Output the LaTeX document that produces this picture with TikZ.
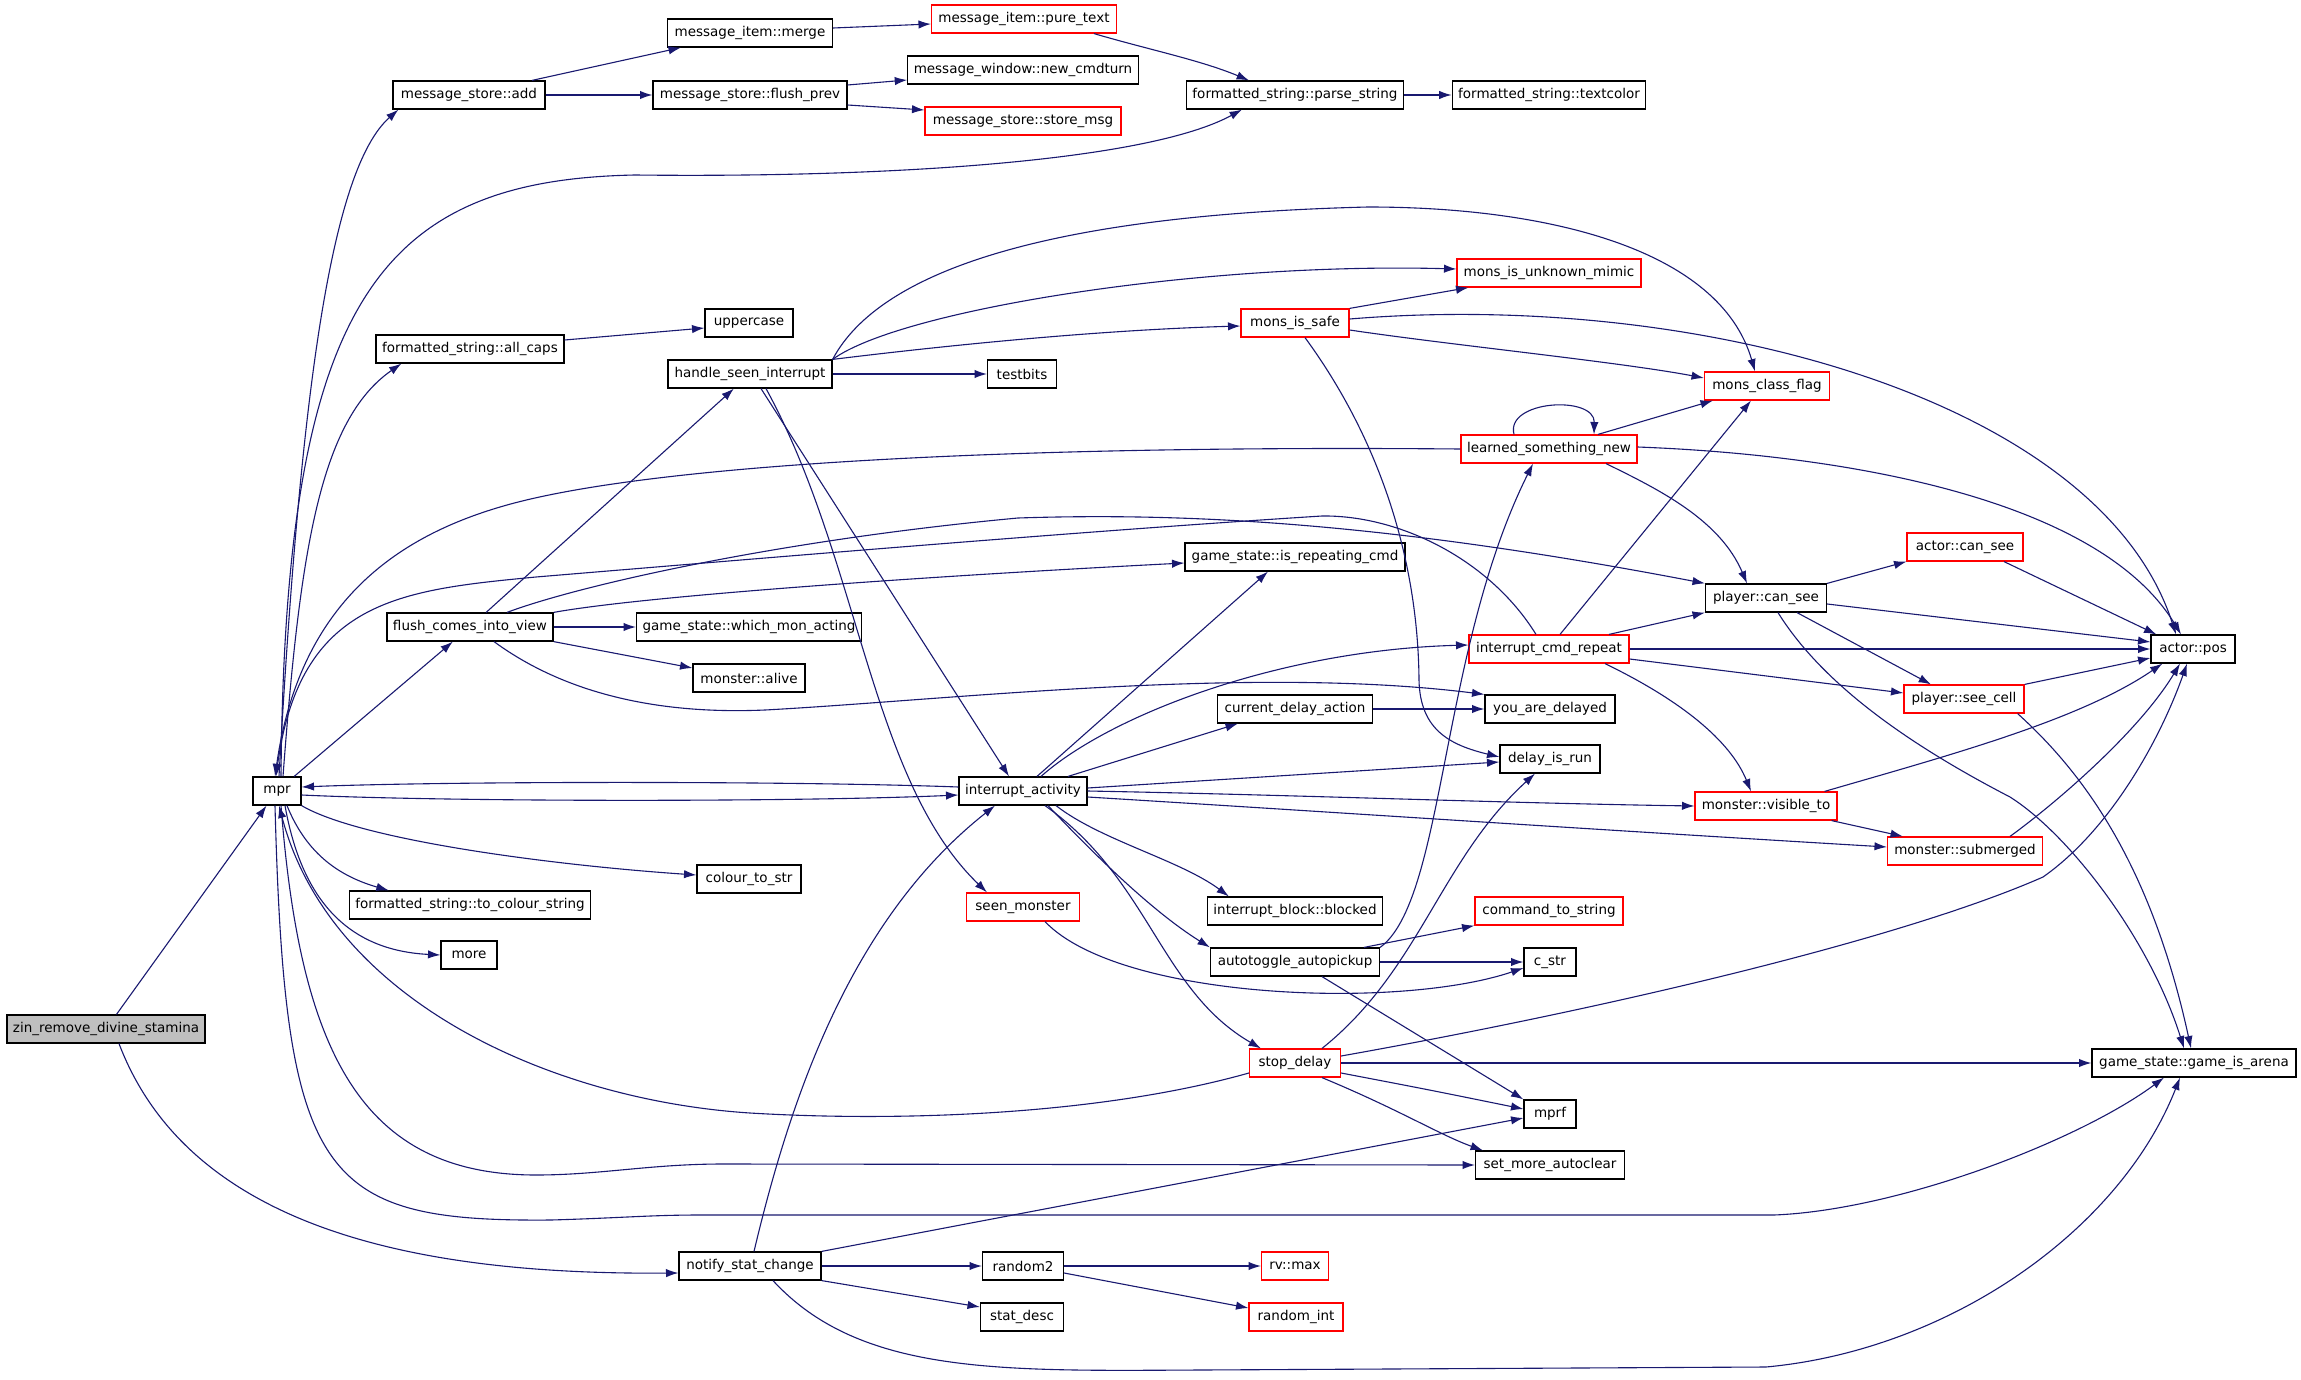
\documentclass[tikz,border=0pt]{standalone}
\usepackage{fontspec}
\setmainfont{DejaVu Sans}
\usetikzlibrary{
  arrows.meta
}
\definecolor{edgeblue}{RGB}{25,25,112}
\definecolor{rootgray}{RGB}{191,191,191}
\tikzset{
  % For the boxes of called functions.
  func/.style={
    draw,
    fill=white,
    line width=0.6pt,
    minimum height=14pt,
    inner xsep=3pt,
    inner ysep=0pt,
    font=\fontsize{6.75pt}{8pt}\selectfont},
%
  % For functions whose own calls are not shown.
  truncated/.style={
    func,
    draw=red},
%
  % For the function the graph starts from.
  root func/.style={
    func,
    fill=rootgray},
%
  % For calls, one arrow each.
  call/.style={
    draw=edgeblue,
    line width=0.55pt,
    -{Latex[length=6.2pt,width=4.2pt]}}
}
\begin{document}
\begin{tikzpicture}[x=0.5pt,y=-0.5pt]
  \path[use as bounding box, fill=white] (0,0) rectangle (2301,1380);

  \node[root func, minimum width=99pt] (zin) at (106,1029) {zin\_remove\_divine\_stamina};
  \node[func, minimum width=24pt] (mpr) at (277,791) {mpr};
  \node[func, minimum width=76pt] (store add) at (469,95) {message\_store::add};
  \node[func, minimum width=82.5pt] (item merge) at (750,33) {message\_item::merge};
  \node[truncated, minimum width=92.5pt] (pure text) at (1024,19) {message\_item::pure\_text};
  \node[func, minimum width=112.5pt] (new cmdturn) at (1023,70) {message\_window::new\_cmdturn};
  \node[func, minimum width=97pt] (flush prev) at (750,95) {message\_store::flush\_prev};
  \node[truncated, minimum width=98pt] (store msg) at (1023,121) {message\_store::store\_msg};
  \node[func, minimum width=108pt] (parse string) at (1295,95) {formatted\_string::parse\_string};
  \node[func, minimum width=96pt] (textcolor) at (1549,95) {formatted\_string::textcolor};
  \node[func, minimum width=94pt] (all caps) at (470,349) {formatted\_string::all\_caps};
  \node[func, minimum width=44pt] (uppercase) at (749,323) {uppercase};
  \node[func, minimum width=82pt] (seen interrupt) at (750,374) {handle\_seen\_interrupt};
  \node[func, minimum width=34.5pt] (testbits) at (1022,374) {testbits};
  \node[truncated, minimum width=92pt] (unknown mimic) at (1549,273) {mons\_is\_unknown\_mimic};
  \node[truncated, minimum width=54pt] (mons safe) at (1295,323) {mons\_is\_safe};
  \node[truncated, minimum width=62.5pt] (class flag) at (1767,386) {mons\_class\_flag};
  \node[truncated, minimum width=88pt] (learned) at (1549,449) {learned\_something\_new};
  \node[func, minimum width=83pt] (flush view) at (470,627) {flush\_comes\_into\_view};
  \node[func, minimum width=112pt] (which mon) at (749,627) {game\_state::which\_mon\_acting};
  \node[func, minimum width=56pt] (alive) at (749,678) {monster::alive};
  \node[func, minimum width=64pt] (activity) at (1023,791) {interrupt\_activity};
  \node[func, minimum width=52pt] (colour str) at (749,879) {colour\_to\_str};
  \node[func, minimum width=119pt] (to colour) at (470,905) {formatted\_string::to\_colour\_string};
  \node[truncated, minimum width=56.5pt] (seen monster) at (1023,907) {seen\_monster};
  \node[func, minimum width=110pt] (repeating) at (1295,557) {game\_state::is\_repeating\_cmd};
  \node[truncated, minimum width=58pt] (can see) at (1965,547) {actor::can\_see};
  \node[func, minimum width=60.5pt] (player see) at (1766,598) {player::can\_see};
  \node[truncated, minimum width=80pt] (cmd repeat) at (1549,649) {interrupt\_cmd\_repeat};
  \node[func, minimum width=42pt] (pos) at (2193,649) {actor::pos};
  \node[func, minimum width=77.5pt] (delay action) at (1295,709) {current\_delay\_action};
  \node[func, minimum width=65pt] (delayed) at (1550,709) {you\_are\_delayed};
  \node[truncated, minimum width=60pt] (see cell) at (1964,699) {player::see\_cell};
  \node[func, minimum width=50pt] (delay run) at (1550,759) {delay\_is\_run};
  \node[truncated, minimum width=71pt] (visible) at (1766,806) {monster::visible\_to};
  \node[truncated, minimum width=77.5pt] (submerged) at (1965,851) {monster::submerged};
  \node[func, minimum width=86.5pt] (blocked) at (1295,911) {interrupt\_block::blocked};
  \node[truncated, minimum width=74pt] (command string) at (1549,911) {command\_to\_string};
  \node[func, minimum width=28pt] (more) at (469,955) {more};
  \node[func, minimum width=71pt] (notify) at (750,1266) {notify\_stat\_change};
  \node[func, minimum width=40.5pt] (random2) at (1023,1266) {random2};
  \node[func, minimum width=41.5pt] (stat desc) at (1022,1317) {stat\_desc};
  \node[func, minimum width=84.5pt] (autopickup) at (1295,962) {autotoggle\_autopickup};
  \node[func, minimum width=26pt] (c str) at (1550,962) {c\_str};
  \node[truncated, minimum width=45.5pt] (stop delay) at (1295,1063) {stop\_delay};
  \node[func, minimum width=102pt] (arena) at (2194,1063) {game\_state::game\_is\_arena};
  \node[func, minimum width=26pt] (mprf) at (1550,1114) {mprf};
  \node[func, minimum width=74.5pt] (autoclear) at (1550,1165) {set\_more\_autoclear};
  \node[truncated, minimum width=33.5pt] (rv max) at (1295,1266) {rv::max};
  \node[truncated, minimum width=47pt] (random int) at (1296,1317) {random\_int};

  \draw[call] (zin) -- (mpr);
  \draw[call] ([xshift=6.5pt]zin.south) .. controls (190,1230) and (420,1275) .. ([yshift=-3.5pt]notify.west);

  \draw[call] ([xshift=1pt]mpr.north) .. controls (300,400) and (330,170) .. ([xshift=3pt]store add.south west);
  \draw[call] ([xshift=2pt]mpr.north) .. controls (285,300) and (380,180) .. (635,175)
              .. controls (900,178) and (1150,160) .. ([xshift=-26.5pt]parse string.south);
  \draw[call] ([xshift=3pt]mpr.north) .. controls (300,550) and (320,420) .. ([xshift=13pt]all caps.south west);
  \draw[call] (mpr) -- (flush view);
  \draw[call] ([yshift=-2pt]mpr.east) .. controls (450,802) and (800,802) .. ([yshift=-2pt]activity.west);
  \draw[call] (mpr.south east) .. controls (360,840) and (550,865) .. ([yshift=2pt]colour str.west);
  \draw[call] ([xshift=5pt]mpr.south) .. controls (305,850) and (335,875) .. ([xshift=20pt]to colour.north west);
  \draw[call] ([xshift=4pt]mpr.south) .. controls (300,890) and (340,950) .. (more.west);
  \draw[call] ([xshift=2pt]mpr.south) .. controls (300,1050) and (360,1175) .. (536,1175)
              .. controls (600,1175) and (650,1164) .. (723,1164) -- (autoclear.west);
  \draw[call] ([xshift=-1pt]mpr.south) .. controls (285,1180) and (320,1222) .. (551,1220)
              .. controls (620,1218) and (650,1215) .. (700,1215) -- (1774,1215)
              .. controls (1900,1210) and (2080,1140) .. ([xshift=-15pt]arena.south);

  \draw[call] ([yshift=-5pt]stop delay.west) .. controls (1100,1115) and (900,1122) .. (750,1113)
              .. controls (550,1100) and (330,1000) .. ([xshift=1pt]mpr.south);
  \draw[call] (learned.west) .. controls (1000,445) and (650,465) .. (507,505)
              .. controls (400,535) and (300,600) .. ([xshift=-1pt]mpr.north);
  \draw[call] ([xshift=-6.5pt]cmd repeat.north) .. controls (1490,560) and (1400,515) .. (1322,516)
              .. controls (1100,530) and (800,555) .. (536,577)
              .. controls (400,590) and (300,600) .. ([xshift=-0.5pt]mpr.north);
  \draw[call] ([yshift=2pt]activity.west) .. controls (800,781) and (450,781) .. ([yshift=2pt]mpr.east);

  \draw[call] ([xshift=31.5pt]store add.north) -- ([xshift=7pt]item merge.south west);
  \draw[call] (store add) -- (flush prev);
  \draw[call] ([yshift=2.5pt]item merge.east) -- ([yshift=-2.5pt]pure text.west);
  \draw[call] ([yshift=5pt]flush prev.east) -- ([yshift=-5pt]new cmdturn.west);
  \draw[call] ([yshift=-5pt]flush prev.east) -- ([yshift=5.5pt]store msg.west);
  \draw[call] ([xshift=35pt]pure text.south) .. controls (1150,50) and (1200,60) .. ([xshift=-23pt]parse string.north);
  \draw[call] (parse string) -- (textcolor);
  \draw[call] ([yshift=4.5pt]all caps.east) -- ([yshift=-2.5pt]uppercase.west);

  \draw[call] (flush view) -- (seen interrupt);
  \draw[call] (flush view.north east) .. controls (650,595) and (950,575) .. ([yshift=-3pt]repeating.west);
  \draw[call] (flush view) -- (which mon);
  \draw[call] (flush view.south east) -- ([yshift=5pt]alive.west);
  \draw[call] ([xshift=12pt]flush view.south) .. controls (560,690) and (650,715) .. (765,710)
              .. controls (950,700) and (1250,665) .. (delayed.north west);
  \draw[call] ([xshift=18.5pt]flush view.north) .. controls (580,585) and (780,540) .. (1018,518)
              .. controls (1200,512) and (1400,525) .. (player see.north west);

  \draw[call] (seen interrupt) -- (testbits);
  \draw[call] (seen interrupt.north east) .. controls (900,310) and (1200,262) .. ([yshift=2pt]unknown mimic.west);
  \draw[call] (seen interrupt.north east) .. controls (950,345) and (1100,330) .. ([yshift=-1.5pt]mons safe.west);
  \draw[call] (seen interrupt.north east) .. controls (880,270) and (1050,215) .. (1368,207)
              .. controls (1550,207) and (1720,250) .. ([xshift=-6pt]class flag.north);
  \draw[call] ([xshift=5.5pt]seen interrupt.south) -- ([xshift=-7pt]activity.north);
  \draw[call] ([xshift=8pt]seen interrupt.south) .. controls (860,560) and (870,780) .. ([xshift=-18pt]seen monster.north);

  \draw[call] (mons safe.north east) -- ([xshift=6pt]unknown mimic.south west);
  \draw[call] ([yshift=-3.5pt]mons safe.east) .. controls (1450,345) and (1620,362) .. ([yshift=4pt]class flag.west);
  \draw[call] ([yshift=2pt]mons safe.east) .. controls (1700,290) and (2100,400) .. ([xshift=-8.5pt]pos.north);
  \draw[call] ([xshift=5pt]mons safe.south) .. controls (1380,440) and (1418,560) .. (1419,680)
              .. controls (1420,730) and (1450,745) .. ([yshift=1pt]delay run.west);

  \draw[call] ([xshift=-17.5pt]learned.north) .. controls (1505,400) and (1595,395) .. ([xshift=22.5pt]learned.north);
  \draw[call] ([xshift=24.5pt]learned.north) -- ([xshift=4.5pt]class flag.south west);
  \draw[call] ([yshift=1pt]learned.east) .. controls (1850,455) and (2100,500) .. ([xshift=-6pt]pos.north);
  \draw[call] ([xshift=28.5pt]learned.south) .. controls (1660,490) and (1720,520) .. ([xshift=-9.5pt]player see.north);

  \draw[call] ([xshift=5.5pt]cmd repeat.north) -- ([xshift=-8pt]class flag.south);
  \draw[call] ([xshift=30pt]cmd repeat.north) -- (player see.south west);
  \draw[call] (cmd repeat) -- (pos);
  \draw[call] ([yshift=-5pt]cmd repeat.east) -- ([yshift=3pt]see cell.west);
  \draw[call] ([xshift=28pt]cmd repeat.south) .. controls (1680,700) and (1730,740) .. ([xshift=-7.5pt]visible.north);

  \draw[call] (player see.north east) -- (can see.south west);
  \draw[call] ([yshift=-3pt]player see.east) -- ([yshift=3.5pt]pos.west);
  \draw[call] ([xshift=15.5pt]player see.south) -- ([xshift=-16.5pt]see cell.north);
  \draw[call] ([xshift=6pt]player see.south) .. controls (1820,680) and (1900,740) .. (2010,797)
              .. controls (2070,835) and (2150,940) .. ([xshift=-5pt]arena.north);
  \draw[call] ([xshift=19.5pt]can see.south) -- ([xshift=3pt]pos.north west);
  \draw[call] (see cell.north east) -- ([yshift=-4.5pt]pos.west);
  \draw[call] ([xshift=-3.5pt]see cell.south east) .. controls (2080,770) and (2150,860) .. ([xshift=-1.5pt]arena.north);

  \draw[call] ([xshift=-6.5pt]visible.north east) .. controls (1950,755) and (2080,720) .. ([xshift=6pt]pos.south west);
  \draw[call] ([xshift=-3pt]visible.south east) -- ([xshift=8pt]submerged.north west);
  \draw[call] ([xshift=22.5pt]submerged.north) .. controls (2060,800) and (2140,730) .. ([xshift=-6.5pt]pos.south);

  \draw[call] ([xshift=7pt]activity.north) -- ([xshift=-13.5pt]repeating.south);
  \draw[call] ([xshift=9pt]activity.north) .. controls (1110,715) and (1280,650) .. ([yshift=2pt]cmd repeat.west);
  \draw[call] ([xshift=22.5pt]activity.north) -- ([xshift=10.5pt]delay action.south west);
  \draw[call] ([yshift=1.5pt]activity.east) -- ([yshift=-1.5pt]delay run.west);
  \draw[call] (activity.east) .. controls (1300,795) and (1500,803) .. (visible.west);
  \draw[call] ([yshift=-3pt]activity.east) .. controls (1300,810) and (1600,830) .. ([yshift=2pt]submerged.west);
  \draw[call] ([xshift=16.5pt]activity.south) .. controls (1100,840) and (1180,860) .. ([xshift=11pt]blocked.north west);
  \draw[call] ([xshift=12.5pt]activity.south) .. controls (1090,850) and (1150,910) .. (autopickup.north west);
  \draw[call] ([xshift=11pt]activity.south) .. controls (1150,880) and (1160,990) .. ([xshift=6pt]stop delay.north west);
  \draw[call] (delay action) -- (delayed);

  \draw[call] ([xshift=2pt]notify.north) .. controls (790,1100) and (850,920) .. ([xshift=-14pt]activity.south);
  \draw[call] (notify.north east) -- ([yshift=-2pt]mprf.west);
  \draw[call] (notify) -- (random2);
  \draw[call] (notify.south east) -- ([yshift=5pt]stat desc.west);
  \draw[call] ([xshift=11.5pt]notify.south) .. controls (860,1375) and (1000,1371) .. (1200,1370) -- (1766,1367)
              .. controls (1950,1350) and (2120,1230) .. ([xshift=-7pt]arena.south);
  \draw[call] (random2) -- (rv max);
  \draw[call] ([yshift=-3.5pt]random2.east) -- ([yshift=4.5pt]random int.west);

  \draw[call] ([xshift=11pt]seen monster.south) .. controls (1120,1000) and (1400,1010) .. ([yshift=-3pt]c str.west);

  \draw[call] ([xshift=34.5pt]autopickup.north) -- (command string.south west);
  \draw[call] (autopickup) -- (c str);
  \draw[call] ([xshift=13.5pt]autopickup.south) -- (mprf.north west);
  \draw[call] (autopickup.north east) .. controls (1445,900) and (1440,650) .. ([xshift=-8pt]learned.south);

  \draw[call] ([xshift=13.5pt]stop delay.north) .. controls (1420,970) and (1440,860) .. ([xshift=-7.5pt]delay run.south);
  \draw[call] ([yshift=3.5pt]stop delay.east) .. controls (1600,1010) and (1900,940) .. (2043,877)
              .. controls (2110,830) and (2160,740) .. ([xshift=-3pt]pos.south);
  \draw[call] (stop delay) -- (arena);
  \draw[call] ([yshift=-5pt]stop delay.east) .. controls (1430,1090) .. ([yshift=2.5pt]mprf.west);
  \draw[call] ([xshift=13.5pt]stop delay.south) .. controls (1400,1110) and (1440,1135) .. ([xshift=4pt]autoclear.north west);
\end{tikzpicture}
\end{document}
